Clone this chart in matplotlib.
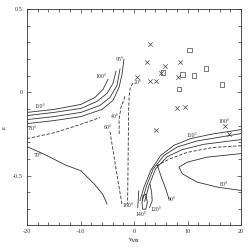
import matplotlib
matplotlib.use("Agg")
import matplotlib.pyplot as plt
from matplotlib.ticker import MultipleLocator

# ---- data ----
c110_x = [-20, -14.95, -9.91, -7.29, -5.79, -4.86]
c110_y = [-0.120, -0.102, -0.072, -0.030, 0.018, 0.078]
c100_x = [-20, -14.95, -9.91, -6.92, -5.05, -3.93, -3.36]
c100_y = [-0.139, -0.120, -0.096, -0.054, -0.006, 0.054, 0.127]
c97_x = [-20, -14.95, -9.91, -6.36, -4.49, -3.18, -2.62]
c97_y = [-0.163, -0.145, -0.120, -0.078, -0.030, 0.042, 0.139]
c95_x = [-20, -14.95, -9.91, -5.98, -3.93, -2.80, -2.24, -1.87]
c95_y = [-0.187, -0.169, -0.145, -0.102, -0.048, 0.030, 0.108, 0.199]
c80_x = [-20, -14.77, -9.53, -6.36]
c80_y = [-0.277, -0.241, -0.187, -0.151]
c70_x = [-20, -16.64, -12.90, -9.91, -7.29, -5.79, -5.05]
c70_y = [-0.325, -0.373, -0.434, -0.470, -0.554, -0.614, -0.669]
c60_x = [-4.49, -3.4, -2.24]
c60_y = [-0.235, -0.45, -0.675]
c40_x = [-1.68, -2.43, -2.80, -2.75]
c40_y = [-0.024, -0.090, -0.163, -0.253]
c20_x = [-0.2, -0.7, -0.9, -1.0, -1.1, -1.2]
c20_y = [0.055, 0.03, -0.02, -0.1, -0.4, -0.67]

r110_x = [1.12, 1.87, 3.12, 4.99, 7.48, 10.6, 14.4, 20.0]
r110_y = [-0.649, -0.568, -0.468, -0.378, -0.317, -0.277, -0.251, -0.223]
r100_x = [1.55, 2.37, 3.61, 5.61, 8.09, 11.8, 20.0]
r100_y = [-0.649, -0.558, -0.458, -0.378, -0.327, -0.291, -0.247]
r95_x = [2.0, 2.8, 4.05, 6.2, 9.0, 13.1, 20.0]
r95_y = [-0.653, -0.558, -0.458, -0.386, -0.343, -0.311, -0.283]
r85_x = [4.2, 6.6, 9.9, 14.8, 20.0]
r85_y = [-0.44, -0.40, -0.36, -0.33, -0.32]
r80_x = [20.0, 13.7, 9.97, 8.41, 9.03, 11.8, 15.6, 20.0]
r80_y = [-0.367, -0.388, -0.418, -0.448, -0.488, -0.538, -0.568, -0.588]
r90_x = [4.36, 5.11, 5.93, 6.54]
r90_y = [-0.438, -0.508, -0.578, -0.639]
r120_x = [3.0, 3.3, 3.4, 2.9]
r120_y = [-0.55, -0.60, -0.65, -0.69]
r140_x = [1.7, 1.5, 1.6, 2.2, 2.5, 2.2, 1.7]
r140_y = [-0.62, -0.66, -0.70, -0.70, -0.66, -0.61, -0.62]
r160_x = [0.9, 0.8, 0.7]
r160_y = [-0.59, -0.64, -0.69]

cross_x = [2.93, 2.43, 0.56, 2.93, 4.06, 4.99, 5.79, 8.54, 8.22, 8.09, 9.48, 4.11, 17.76, 17.0]
cross_y = [0.289, 0.183, 0.095, 0.068, 0.068, 0.119, 0.158, 0.183, 0.095, -0.095, -0.089, -0.223, -0.247, -0.199]
square_x = [10.41, 9.03, 11.21, 13.51, 8.41, 16.5, 5.4]
square_y = [0.255, 0.108, 0.102, 0.143, 0.022, 0.048, 0.12]

labels = ["95°", "100°", "110°", "80°", "70°", "60°", "40°", "20°",
          "110°", "100°", "80°", "90°", "120°", "140°", "160°"]
label_x = [-2.6, -6.1, -17.5, -18.8, -17.9, -4.8, -3.6, 0.7,
           10.9, 16.8, 16.8, 7.0, 4.1, 1.3, -1.1]
label_y = [0.2, 0.095, -0.085, -0.217, -0.38, -0.21, -0.145, 0.06,
           -0.26, -0.175, -0.55, -0.64, -0.70, -0.73, -0.68]

fig = plt.figure(figsize=(2.49, 2.49), dpi=100)
ax = fig.add_axes([27/249, 24/249, 214/249, 216/249])
lw = 0.6
solid = [(c110_x, c110_y), (c100_x, c100_y), (c97_x, c97_y), (c95_x, c95_y),
         (c70_x, c70_y), (r110_x, r110_y), (r100_x, r100_y), (r95_x, r95_y),
         (r80_x, r80_y), (r90_x, r90_y), (r120_x, r120_y), (r140_x, r140_y),
         (r160_x, r160_y)]
dashed = [(c80_x, c80_y), (c60_x, c60_y), (c40_x, c40_y), (c20_x, c20_y),
          (r85_x, r85_y)]
for xs, ys in solid:
    ax.plot(xs, ys, color="#333333", lw=lw)
for xs, ys in dashed:
    ax.plot(xs, ys, color="#333333", lw=lw, dashes=(4, 2))
ax.scatter(cross_x, cross_y, marker="x", s=10, c="#444444", linewidths=0.5)
ax.scatter(square_x, square_y, marker="s", s=10, facecolors="none",
           edgecolors="#444444", linewidths=0.5)
for t, x, y in zip(labels, label_x, label_y):
    ax.text(x, y, t, fontsize=4.2, family="Liberation Serif", ha="center",
            va="center", color="#333333")

ax.set_xlim(-20, 20)
ax.set_ylim(-0.795, 0.5)
ax.set_xticks([-20, -10, 0, 10, 20])
ax.set_yticks([-0.5, 0, 0.5])
ax.set_yticklabels(["-0.5", "0", "0.5"])
ax.set_xticklabels(["-20", "-10", "0", "10", "20"])
ax.xaxis.set_minor_locator(MultipleLocator(2))
ax.yaxis.set_minor_locator(MultipleLocator(0.1))
ax.tick_params(which="both", direction="in", top=True, right=True,
               labelsize=4.5, width=0.5, colors="#333333", pad=3)
ax.tick_params(which="major", length=3)
ax.tick_params(which="minor", length=2)
for lab in ax.get_xticklabels() + ax.get_yticklabels():
    lab.set_family("Liberation Serif")
for s in ax.spines.values():
    s.set_linewidth(0.6)
    s.set_color("#333333")
ax.set_xlabel("v$_{vis}$", fontsize=5, family="Liberation Serif", labelpad=2)
ax.set_ylabel("ε", fontsize=5, family="Liberation Serif", rotation=90)
ax.yaxis.set_label_coords(-0.095, 0.45)
fig.savefig("out.png", dpi=100)
